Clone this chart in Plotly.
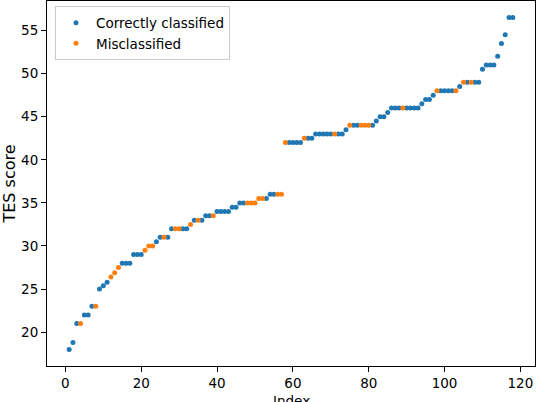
import plotly.graph_objects as go

# sorted TES scores, one per sample (index 1..118)
index = list(range(1, 119))
tes_score = [
    18, 18.8, 21, 21, 22, 22, 23, 23, 25, 25.4,
    25.8, 26.4, 26.9, 27.5, 28, 28, 28, 29, 29, 29,
    29.5, 30, 30, 30.5, 31, 31, 31, 32, 32, 32,
    32, 32, 32.5, 33, 33, 33, 33.5, 33.5, 33.5, 34,
    34, 34, 34, 34.5, 34.5, 35, 35, 35, 35, 35,
    35.5, 35.5, 35.5, 36, 36, 36, 36, 42, 42, 42,
    42, 42, 42.5, 42.5, 42.5, 43, 43, 43, 43, 43,
    43, 43, 43, 43.5, 44, 44, 44, 44, 44, 44,
    44, 44.5, 45, 45, 45.5, 46, 46, 46, 46, 46,
    46, 46, 46, 46.5, 47, 47, 47.5, 48, 48, 48,
    48, 48, 48, 48.5, 49, 49, 49, 49, 49, 50.5,
    51, 51, 51, 52, 53.5, 54.5, 56.5, 56.5,
]
# indices of the misclassified samples
misclassified = [4, 8, 12, 13, 14, 21, 22, 23, 26, 29, 30, 33, 35, 39,
                 48, 49, 50, 51, 52, 56, 57, 58, 63, 71, 75, 78, 79, 80,
                 89, 98, 103, 105, 107]

x_ok = [i for i in index if i not in misclassified]
y_ok = [tes_score[i - 1] for i in x_ok]
x_bad = [i for i in index if i in misclassified]
y_bad = [tes_score[i - 1] for i in x_bad]

fig = go.Figure()
fig.add_trace(go.Scatter(x=x_ok, y=y_ok, mode='markers', name='Correctly classified',
                         marker=dict(color='#1f77b4', size=5)))
fig.add_trace(go.Scatter(x=x_bad, y=y_bad, mode='markers', name='Misclassified',
                         marker=dict(color='#ff7f0e', size=5)))

axis_style = dict(showgrid=False, zeroline=False, showline=True, mirror=True,
                  linecolor='black', linewidth=1, ticks='outside', ticklen=5,
                  tickwidth=1, tickcolor='black', automargin=False)

fig.update_layout(
    template='none',
    width=536, height=402,
    margin=dict(l=47, r=1, t=1, b=36),
    paper_bgcolor='white', plot_bgcolor='white',
    font=dict(family='DejaVu Sans', size=13.5, color='black'),
    xaxis=dict(range=[-4.85, 123.85], tickvals=[0, 20, 40, 60, 80, 100, 120],
               **axis_style),
    yaxis=dict(range=[16.075, 58.425], tickvals=[20, 25, 30, 35, 40, 45, 50, 55],
               title=dict(text='TES score', standoff=12), **axis_style),
    legend=dict(x=0.0164, y=0.985, xanchor='left', yanchor='top',
                bordercolor='#cccccc', borderwidth=1, bgcolor='white',
                font=dict(size=13.5)),
    showlegend=True,
)

# x label sits low, partly cut by the bottom edge like the original
fig.add_annotation(text='Index', xref='paper', yref='paper', x=0.5, y=-0.097,
                   xanchor='center', yanchor='middle', showarrow=False)

# drop the default 8px page margin so the figure sits at the window corner
fig.write_html("out.html", config={'displayModeBar': False},
               post_script="document.body.style.margin='0';")
